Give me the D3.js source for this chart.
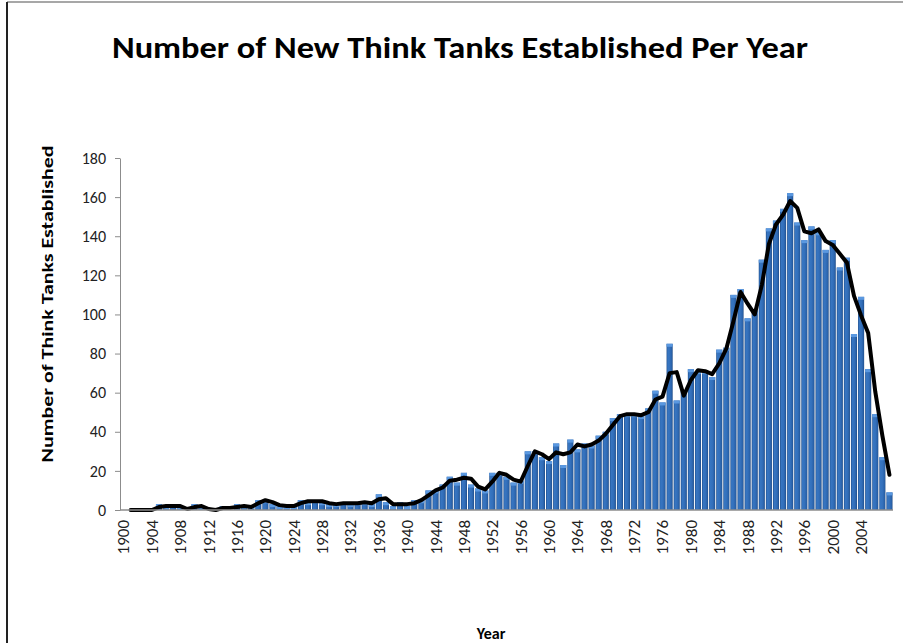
<!DOCTYPE html>
<html>
<head>
<meta charset="utf-8">
<script src="https://cdn.jsdelivr.net/npm/d3@7/dist/d3.min.js"></script>
<style>
  html, body { margin: 0; padding: 0; background: #fff; }
  svg { display: block; }
</style>
</head>
<body>
<div id="chart"></div>
<script>
// years on the category axis, 1900..2008
const years = d3.range(1900, 2009);

// new think tanks per year
const counts = [
  0, 0, 0, 0, 0, 3, 1, 3, 1, 0,          // 1900s
  3, 1, 0, 0, 2, 0, 3, 1, 2, 5,          // 1910s
  5, 3, 2, 2, 2, 5, 4, 5, 4, 3,          // 1920s
  3, 4, 3, 4, 4, 3, 8, 4, 2, 4,          // 1930s
  2, 5, 5, 10, 10, 13, 17, 14, 19, 13,   // 1940s
  11, 10, 19, 19, 17, 14, 15, 30, 30, 27, // 1950s
  25, 34, 23, 36, 31, 34, 33, 38, 40, 47, // 1960s
  49, 49, 49, 48, 52, 61, 55, 85, 56, 61, // 1970s
  72, 71, 71, 68, 82, 83, 110, 113, 98, 102, // 1980s
  128, 144, 148, 154, 162, 147, 138, 145, 142, 133, // 1990s
  138, 124, 129, 90, 109, 72, 49, 27, 9  // 2000s
];

// labelled years on the x axis
const tickYears = [1900, 1904, 1908, 1912, 1916, 1920, 1924, 1928, 1932, 1936, 1940,
  1944, 1948, 1952, 1956, 1960, 1964, 1968, 1972, 1976, 1980, 1984, 1988, 1992,
  1996, 2000, 2004];

const yTicks = [0, 20, 40, 60, 80, 100, 120, 140, 160, 180];

const width = 903, height = 643;
const font = "Carlito, 'Liberation Sans Narrow', 'Open Sans', sans-serif";

const svg = d3.select("#chart").append("svg")
    .attr("width", width)
    .attr("height", height)
    .style("font-family", font);

// chart area border (top and left show in the crop)
svg.append("line")
    .attr("x1", 7).attr("x2", 903).attr("y1", 2).attr("y2", 2)
    .attr("stroke", "#8a8a8a").attr("stroke-width", 1.5);
svg.append("line")
    .attr("x1", 7).attr("x2", 7).attr("y1", 2).attr("y2", 643)
    .attr("stroke", "#222").attr("stroke-width", 2);

const x = d3.scaleBand()
    .domain(years)
    .range([120, 893])
    .paddingInner(0.14)
    .paddingOuter(0.07);

const y = d3.scaleLinear()
    .domain([0, 180])
    .range([510, 158]);

// bar fill: Excel 2007 style blue
const defs = svg.append("defs");
const grad = defs.append("linearGradient")
    .attr("id", "barFill")
    .attr("x1", 0).attr("x2", 1).attr("y1", 0).attr("y2", 0);
grad.selectAll("stop")
  .data([[0, "#1d4c8a"], [0.2, "#3776c2"], [0.55, "#3470bb"], [0.85, "#2961a8"], [1, "#1b4680"]])
  .join("stop")
    .attr("offset", d => d[0])
    .attr("stop-color", d => d[1]);

const bars = svg.append("g")
  .selectAll("g")
  .data(years.map((yr, i) => ({ year: yr, value: counts[i] })))
  .join("g");

bars.append("rect")
    .attr("x", d => x(d.year))
    .attr("y", d => y(d.value))
    .attr("width", x.bandwidth())
    .attr("height", d => y(0) - y(d.value))
    .attr("fill", "url(#barFill)");

bars.filter(d => d.value > 0).append("rect")
    .attr("x", d => x(d.year))
    .attr("y", d => y(d.value))
    .attr("width", x.bandwidth())
    .attr("height", d => Math.min(3, y(0) - y(d.value)))
    .attr("fill", "#5a98e0");

// 2-period moving average trendline
const trend = years.map((yr, i) => ({
  year: yr,
  value: i === 0 ? null : (counts[i - 1] + counts[i]) / 2
})).filter(d => d.value !== null);

const line = d3.line()
    .x(d => x(d.year) + x.bandwidth() / 2)
    .y(d => y(d.value));

svg.append("path")
    .datum(trend)
    .attr("fill", "none")
    .attr("stroke", "#000")
    .attr("stroke-width", 4)
    .attr("stroke-linejoin", "round")
    .attr("stroke-linecap", "round")
    .attr("d", line);

// y axis
const yAxis = svg.append("g")
    .attr("transform", "translate(120,0)")
    .call(d3.axisLeft(y).tickValues(yTicks).tickSize(5).tickPadding(9).tickSizeOuter(0));
yAxis.select(".domain").attr("stroke", "#8c8c8c");
yAxis.selectAll(".tick line").attr("stroke", "#8c8c8c");
yAxis.selectAll(".tick text")
    .attr("font-family", font)
    .attr("font-size", 16)
    .attr("fill", "#222");

// x axis baseline and labels
svg.append("line")
    .attr("x1", 120).attr("x2", 893)
    .attr("y1", y(0)).attr("y2", y(0))
    .attr("stroke", "#8c8c8c")
    .attr("stroke-width", 1.5);

svg.append("g")
  .selectAll("text")
  .data(tickYears)
  .join("text")
    .attr("transform", d => `translate(${x(d) + x.bandwidth() / 2},520) rotate(-90)`)
    .attr("text-anchor", "end")
    .attr("dy", "0.35em")
    .attr("font-size", 17)
    .attr("fill", "#222")
    .text(d => d);

// titles
svg.append("text")
    .attr("x", 460).attr("y", 58)
    .attr("text-anchor", "middle")
    .attr("font-size", 31)
    .attr("font-weight", "bold")
    .attr("textLength", 696)
    .attr("lengthAdjust", "spacingAndGlyphs")
    .attr("fill", "#000")
    .text("Number of New Think Tanks Established Per Year");

svg.append("text")
    .attr("transform", "translate(47,304) rotate(-90)")
    .attr("text-anchor", "middle")
    .attr("dy", "0.35em")
    .attr("font-size", 16)
    .attr("font-weight", "bold")
    .attr("textLength", 317)
    .attr("lengthAdjust", "spacingAndGlyphs")
    .attr("fill", "#000")
    .text("Number of Think Tanks Established");

svg.append("text")
    .attr("x", 491).attr("y", 639)
    .attr("text-anchor", "middle")
    .attr("font-size", 16)
    .attr("font-weight", "bold")
    .attr("fill", "#000")
    .text("Year");
</script>
</body>
</html>
